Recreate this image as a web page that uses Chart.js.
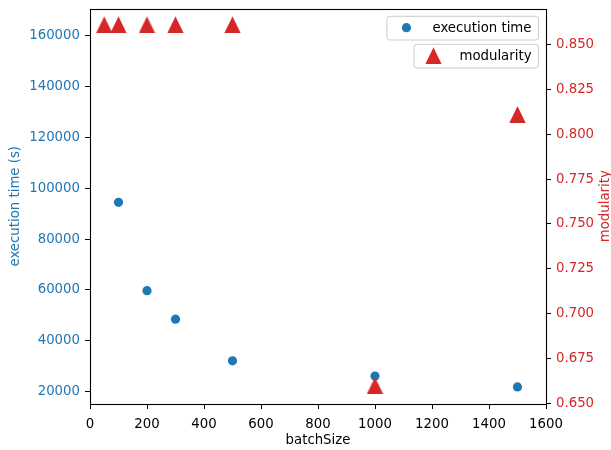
<!DOCTYPE html>
<html>
<head>
<meta charset="utf-8">
<script src="https://cdn.jsdelivr.net/npm/chart.js@4/dist/chart.umd.min.js"></script>
<style>
  html, body { margin: 0; padding: 0; background: #fff; }
  #wrap { width: 611px; height: 450px; }
</style>
</head>
<body>
<div id="wrap"><canvas id="c" width="611" height="450"></canvas></div>
<script>
// Execution time per batch size (seconds)
const batchSizes = [100, 200, 300, 500, 1000, 1500];
const executionTimes = [94500, 59700, 48500, 32100, 26100, 21800];

// Modularity per batch size
const modularityBatchSizes = [50, 100, 200, 300, 500, 1000, 1500];
const modularityValues = [0.861, 0.861, 0.861, 0.861, 0.861, 0.660, 0.811];

// Tick values
const batchTicks = [0, 200, 400, 600, 800, 1000, 1200, 1400, 1600];
const timeTicks = [20000, 40000, 60000, 80000, 100000, 120000, 140000, 160000];
const modularityTicks = [0.650, 0.675, 0.700, 0.725, 0.750, 0.775, 0.800, 0.825, 0.850];

const BLUE = '#1f77b4';
const RED = '#d62728';
const FAMILY = '"DejaVu Sans", sans-serif';
const SIZE = 13.3;

Chart.defaults.font.family = FAMILY;
Chart.defaults.font.size = SIZE;

// Upward triangle marker with equal width and height, centred on its box
function triangleMarker(color) {
  const c = document.createElement('canvas');
  c.width = 17; c.height = 17;
  const g = c.getContext('2d');
  g.fillStyle = color;
  g.beginPath();
  g.moveTo(8.5, 0.2);
  g.lineTo(16.7, 16.9);
  g.lineTo(0.3, 16.9);
  g.closePath();
  g.fill();
  return c;
}
const triangle = triangleMarker(RED);

function fixedTicks(values) {
  return scale => { scale.ticks = values.map(v => ({ value: v })); };
}

// Vertical axes: fixed width and no extra room reserved for end labels
function fitVertical(width) {
  return scale => {
    scale.width = width;
    scale.paddingTop = 0;
    scale.paddingBottom = 0;
  };
}

const tickGrid = {
  display: true,
  drawOnChartArea: false,
  drawTicks: true,
  tickLength: 5,
  tickColor: '#000',
  tickWidth: 1
};

// Box around the plot area
const framePlugin = {
  id: 'frame',
  afterDatasetsDraw(chart) {
    const { ctx, chartArea: a } = chart;
    ctx.save();
    ctx.strokeStyle = '#000';
    ctx.lineWidth = 1.1;
    const l = Math.round(a.left) + 0.5, r = Math.round(a.right) + 0.5;
    const t = Math.round(a.top) + 0.5, b = Math.round(a.bottom) + 0.5;
    ctx.strokeRect(l, t, r - l, b - t);
    ctx.restore();
  }
};

// Right-hand axis title, reading bottom to top
const rightTitlePlugin = {
  id: 'rightTitle',
  afterDraw(chart) {
    const { ctx, chartArea: a } = chart;
    ctx.save();
    ctx.translate(chart.width - 5, (a.top + a.bottom) / 2);
    ctx.rotate(-Math.PI / 2);
    ctx.font = SIZE + 'px ' + FAMILY;
    ctx.fillStyle = RED;
    ctx.textAlign = 'center';
    ctx.textBaseline = 'middle';
    ctx.fillText('modularity', 0, 0);
    ctx.restore();
  }
};

// One framed legend per axis, stacked in the upper right corner
const legendPlugin = {
  id: 'stackedLegends',
  afterDraw(chart) {
    const { ctx, chartArea: a } = chart;
    ctx.save();
    ctx.font = SIZE + 'px ' + FAMILY;
    const right = a.right - 8;
    let top = a.top + 7.3;
    const h = 23.7;
    chart.data.datasets.forEach(ds => {
      const tw = ctx.measureText(ds.label).width;
      const w = 20 + 26 + tw + 6.5;
      const left = right - w;
      ctx.beginPath();
      ctx.roundRect(left + 0.5, top + 0.5, w, h, 3);
      ctx.fillStyle = 'rgba(255,255,255,0.8)';
      ctx.fill();
      ctx.strokeStyle = '#cccccc';
      ctx.lineWidth = 1;
      ctx.stroke();
      const mx = left + 20, my = top + h / 2;
      if (ds.pointStyle instanceof HTMLCanvasElement) {
        ctx.drawImage(ds.pointStyle, mx - ds.pointStyle.width / 2, my - ds.pointStyle.height / 2);
      } else {
        ctx.beginPath();
        ctx.arc(mx, my, ds.pointRadius, 0, Math.PI * 2);
        ctx.fillStyle = ds.backgroundColor;
        ctx.fill();
      }
      ctx.fillStyle = '#000';
      ctx.textAlign = 'left';
      ctx.textBaseline = 'middle';
      ctx.fillText(ds.label, mx + 26, my + 0.5);
      top += h + 4.3;
    });
    ctx.restore();
  }
};

new Chart(document.getElementById('c'), {
  type: 'scatter',
  data: {
    datasets: [
      {
        label: 'execution time',
        data: batchSizes.map((x, i) => ({ x: x, y: executionTimes[i] })),
        yAxisID: 'y',
        pointStyle: 'circle',
        pointRadius: 4.6,
        backgroundColor: BLUE,
        borderColor: BLUE,
        pointBorderWidth: 0,
        order: 1
      },
      {
        label: 'modularity',
        data: modularityBatchSizes.map((x, i) => ({ x: x, y: modularityValues[i] })),
        yAxisID: 'y1',
        pointStyle: triangle,
        pointRadius: 8.5,
        backgroundColor: RED,
        borderColor: RED,
        pointBorderWidth: 0,
        order: 0
      }
    ]
  },
  options: {
    responsive: false,
    animation: false,
    events: [],
    layout: { padding: { top: 5, left: 0, right: 0, bottom: 0 } },
    plugins: {
      legend: { display: false },
      tooltip: { enabled: false }
    },
    scales: {
      x: {
        type: 'linear',
        position: 'bottom',
        min: 0,
        max: 1600,
        afterBuildTicks: fixedTicks(batchTicks),
        afterFit: s => { s.height = 46; s.paddingLeft = 0; s.paddingRight = 0; },
        grid: tickGrid,
        border: { display: false },
        ticks: { color: '#000', padding: 7.5, maxRotation: 0, autoSkip: false, callback: v => String(v) },
        title: { display: true, text: 'batchSize', color: '#000', padding: { top: 0, bottom: 1.6 } }
      },
      y: {
        type: 'linear',
        position: 'left',
        min: 15087,
        max: 170802,
        afterBuildTicks: fixedTicks(timeTicks),
        afterFit: fitVertical(90),
        grid: tickGrid,
        border: { display: false },
        ticks: { color: BLUE, padding: 5, autoSkip: false, callback: v => String(v) },
        title: { display: true, text: 'execution time (s)', color: BLUE, padding: { top: 7.4, bottom: 0 } }
      },
      y1: {
        type: 'linear',
        position: 'right',
        min: 0.6497,
        max: 0.8700,
        afterBuildTicks: fixedTicks(modularityTicks),
        afterFit: fitVertical(65),
        grid: tickGrid,
        border: { display: false },
        ticks: { color: RED, padding: 5, autoSkip: false, callback: v => v.toFixed(3) },
        title: { display: false }
      }
    }
  },
  plugins: [framePlugin, rightTitlePlugin, legendPlugin]
});
</script>
</body>
</html>
